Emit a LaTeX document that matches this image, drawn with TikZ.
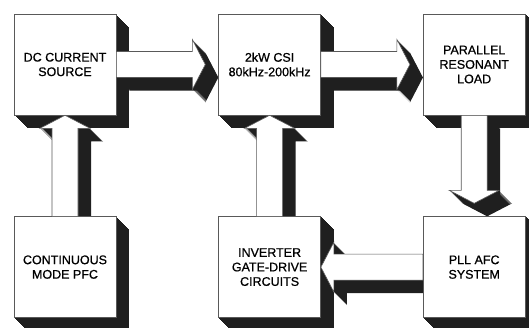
\documentclass[tikz,border=0pt]{standalone}
\usepackage{fontspec}
\setmainfont{Liberation Sans}
\newfontfamily\scanfont{Liberation Sans}[FakeBold=0.7]
\usetikzlibrary{calc,positioning}
\pgfdeclarelayer{background}
\pgfsetlayers{background,main}

% white block arrow with a solid extruded shadow (down-right)
\newcommand\blockarr[1]{%
  \begin{pgfonlayer}{background}
    \foreach \off in {1,...,13}
      \fill[shade,transform canvas={shift={(\off,-\off)}}] #1;
  \end{pgfonlayer}
  \filldraw[face] #1;}

\begin{document}
\begin{tikzpicture}[x=1pt,y=1pt,
  blk/.style={draw=black!65,fill=white,line width=0.6pt,
    minimum width=102pt,minimum height=101pt,inner sep=0pt,align=center,
    font=\scanfont\fontsize{12.5}{14.5}\selectfont},
  face/.style={draw=black!65,fill=white,line width=0.6pt,line join=miter},
  shade/.style={fill=black!88},
  node distance=102pt]
\path[use as bounding box,clip] (0,0) rectangle (529,-327);

\node[blk] (src) at (65,-64.5) {DC CURRENT\\SOURCE};
\node[blk,right=of src] (csi) {2kW CSI\\80kHz-200kHz};
\node[blk,right=of csi] (load) {PARALLEL\\RESONANT\\LOAD};
\node[blk,below=101pt of src] (pfc) {CONTINUOUS\\MODE PFC};
\node[blk,below=101pt of csi] (inv) {INVERTER\\GATE-DRIVE\\CIRCUITS};
\node[blk,below=101pt of load] (pll) {PLL AFC\\SYSTEM};

% box shadows
\begin{pgfonlayer}{background}
  \foreach \b in {src,csi,load,pfc,inv,pll}
    \foreach \off in {1,...,13}
      \fill[shade,transform canvas={shift={(\off,-\off)}}]
        (\b.south west) rectangle (\b.north east);
\end{pgfonlayer}

% connectors
\blockarr{($(src.east)+(0,13)$) -- ($(csi.west)+(-26,13)$) -- ($(csi.west)+(-26,25)$)
  -- ($(csi.west)+(-13,0)$) -- ($(csi.west)+(-26,-25)$) -- ($(csi.west)+(-26,-13)$)
  -- ($(src.east)+(0,-13)$) -- cycle}
\blockarr{($(csi.east)+(0,13)$) -- ($(load.west)+(-26,13)$) -- ($(load.west)+(-26,25)$)
  -- ($(load.west)+(-13,0)$) -- ($(load.west)+(-26,-25)$) -- ($(load.west)+(-26,-13)$)
  -- ($(csi.east)+(0,-13)$) -- cycle}
\blockarr{($(pfc.north)+(-13,0)$) -- ($(src.south)+(-13,-13)$) -- ($(src.south)+(-25,-13)$)
  -- (src.south) -- ($(src.south)+(25,-13)$) -- ($(src.south)+(13,-13)$)
  -- ($(pfc.north)+(13,0)$) -- cycle}
\blockarr{($(inv.north)+(-13,0)$) -- ($(csi.south)+(-13,-13)$) -- ($(csi.south)+(-25,-13)$)
  -- (csi.south) -- ($(csi.south)+(25,-13)$) -- ($(csi.south)+(13,-13)$)
  -- ($(inv.north)+(13,0)$) -- cycle}
\blockarr{($(load.south)+(-13,0)$) -- ($(pll.north)+(-13,26)$) -- ($(pll.north)+(-25,26)$)
  -- ($(pll.north)+(0,13)$) -- ($(pll.north)+(25,26)$) -- ($(pll.north)+(13,26)$)
  -- ($(load.south)+(13,0)$) -- cycle}
\blockarr{($(pll.west)+(0,13)$) -- ($(inv.east)+(13,13)$) -- ($(inv.east)+(13,25)$)
  -- (inv.east) -- ($(inv.east)+(13,-25)$) -- ($(inv.east)+(13,-13)$)
  -- ($(pll.west)+(0,-13)$) -- cycle}
\end{tikzpicture}
\end{document}
